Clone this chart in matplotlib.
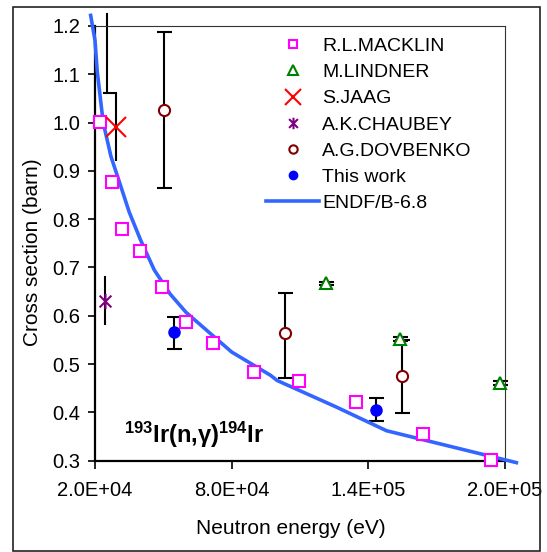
import numpy as np
import matplotlib
matplotlib.use("Agg")
import matplotlib.pyplot as plt
from matplotlib.path import Path
from matplotlib.patches import Rectangle

plt.rcParams['font.family'] = ['Liberation Sans', 'DejaVu Sans']
plt.rcParams['mathtext.fontset'] = 'custom'
plt.rcParams['mathtext.rm'] = 'Liberation Sans'
plt.rcParams['mathtext.bf'] = 'Liberation Sans:bold'
plt.rcParams['mathtext.it'] = 'Liberation Sans:italic'

# ---------------- data ----------------
macklin_e = [2.2e4, 2.76e4, 3.2e4, 3.97e4, 4.93e4, 5.98e4, 7.2e4, 8.97e4, 1.096e5, 1.345e5, 1.642e5, 1.94e5]
macklin_xs = [1.001, 0.877, 0.779, 0.734, 0.659, 0.588, 0.543, 0.484, 0.465, 0.422, 0.356, 0.302]

lindner_e = [1.212e5, 1.54e5, 1.978e5]
lindner_xs = [0.667, 0.552, 0.461]
lindner_err = [0.004, 0.004, 0.004]

jaag_e = [2.93e4]
jaag_xs = [0.990]
jaag_lo = [0.920]
jaag_hi = [1.062]
# companion bracket drawn next to the S.JAAG point
jaag_bracket_x = [2.53e4, 2.53e4, np.nan, 2.40e4, 2.93e4]
jaag_bracket_y = [1.225, 1.062, np.nan, 1.062, 1.062]

chaubey_e = [2.45e4]
chaubey_xs = [0.631]
chaubey_lo = [0.581]
chaubey_hi = [0.682]

dovbenko_e = [5.03e4, 1.033e5, 1.548e5]
dovbenko_xs = [1.027, 0.565, 0.475]
dovbenko_lo = [0.864, 0.471, 0.399]
dovbenko_hi = [1.187, 0.648, 0.550]

this_e = [5.46e4, 1.432e5]
this_xs = [0.566, 0.406]
this_lo = [0.532, 0.383]
this_hi = [0.598, 0.429]

endf_e = [1.81e4, 2.0e4, 2.1e4, 2.36e4, 2.7e4, 3.05e4, 3.5e4, 4.0e4, 4.6e4, 5.3e4, 6.0e4,
          8.0e4, 9.7e4, 1.0e5, 1.26e5, 1.48e5, 2.05e5]
endf_xs = [1.222, 1.17, 1.105, 1.0, 0.93, 0.88, 0.815, 0.757, 0.695, 0.645, 0.607,
           0.525, 0.477, 0.466, 0.411, 0.362, 0.296]

xtick_vals = [2.0e4, 8.0e4, 1.4e5, 2.0e5]
xtick_labels = ["2.0E+04", "8.0E+04", "1.4E+05", "2.0E+05"]
ytick_vals = [0.3, 0.4, 0.5, 0.6, 0.7, 0.8, 0.9, 1.0, 1.1, 1.2]

# ---------------- figure ----------------
W, H = 547, 552
fig = plt.figure(figsize=(W / 100, H / 100), dpi=100)
fig.patch.set_facecolor('white')

# chart-area border
fig.patches.append(Rectangle((13 / W, 1 - 551 / H), (540 - 13) / W, (551 - 7) / H,
                             transform=fig.transFigure, fill=False,
                             edgecolor='#222222', linewidth=1.2))

ax_l, ax_r, ax_t, ax_b = 95, 505, 26, 460.7
ax = fig.add_axes([ax_l / W, 1 - ax_b / H, (ax_r - ax_l) / W, (ax_b - ax_t) / H])
ax.set_xlim(2.0e4, 2.0e5)
ax.set_ylim(0.3, 1.2)

for s in ('left', 'bottom'):
    ax.spines[s].set_linewidth(1.6)
    ax.spines[s].set_color('black')
for s in ('top', 'right'):
    ax.spines[s].set_linewidth(0.8)
    ax.spines[s].set_color('#333333')

ax.set_xticks(xtick_vals)
ax.set_xticklabels(xtick_labels)
ax.set_yticks(ytick_vals)
ax.set_yticklabels([f"{v:.1f}" for v in ytick_vals])
ax.tick_params(axis='both', direction='out', length=5.4, width=1.2, labelsize=14.5, color='black')
ax.tick_params(axis='y', pad=5)
ax.tick_params(axis='x', pad=9.5)
ax.tick_params(top=False, right=False)

ax.set_ylabel("Cross section (barn)", fontsize=15)
ax.yaxis.set_label_coords((32.5 - ax_l) / (ax_r - ax_l), 0.48)
ax.yaxis.label.set_va('center')
ax.set_xlabel("Neutron energy (eV)", fontsize=15)
ax.xaxis.set_label_coords((291 - ax_l) / (ax_r - ax_l), -(529 - ax_b) / (ax_b - ax_t))
ax.xaxis.label.set_va('center')

# asterisk marker: X plus vertical bar
ast = Path([(-1, -1), (1, 1), (-1, 1), (1, -1), (0, -1.3), (0, 1.3)],
           [Path.MOVETO, Path.LINETO, Path.MOVETO, Path.LINETO, Path.MOVETO, Path.LINETO])

ebkw = dict(fmt='none', ecolor='black', elinewidth=1.5, capthick=1.5, clip_on=False, zorder=2)


def asym(vals, lo, hi):
    return [np.subtract(vals, lo), np.subtract(hi, vals)]


# error bars
ax.errorbar(lindner_e, lindner_xs, yerr=lindner_err, capsize=5.4, **ebkw)
ax.errorbar(jaag_e, jaag_xs, yerr=asym(jaag_xs, jaag_lo, jaag_hi), capsize=0, **ebkw)
ax.plot(jaag_bracket_x, jaag_bracket_y, color='black', lw=1.5, clip_on=False, zorder=2)
ax.errorbar(chaubey_e, chaubey_xs, yerr=asym(chaubey_xs, chaubey_lo, chaubey_hi), capsize=0, **ebkw)
ax.errorbar(dovbenko_e, dovbenko_xs, yerr=asym(dovbenko_xs, dovbenko_lo, dovbenko_hi), capsize=5.4, **ebkw)
ax.errorbar(this_e, this_xs, yerr=asym(this_xs, this_lo, this_hi), capsize=5.4, **ebkw)

# ENDF curve
endf, = ax.plot(endf_e, endf_xs, color='#3366FF', lw=2.6, clip_on=False, zorder=3,
                solid_joinstyle='round', label='ENDF/B-6.8')

# data markers
mk = dict(ls='none', clip_on=False, zorder=4)
h_mac, = ax.plot(macklin_e, macklin_xs, marker='s', ms=8, mfc='white', mec='#FF00FF', mew=1.5,
                 label='R.L.MACKLIN', **mk)
h_lin, = ax.plot(lindner_e, lindner_xs, marker='^', ms=9, mfc='white', mec='#008000', mew=1.5,
                 label='M.LINDNER', **mk)
h_jaag, = ax.plot(jaag_e, jaag_xs, marker='x', ms=15, mec='#FF0000', mew=1.5,
                  label='S.JAAG', **mk)
h_cha, = ax.plot(chaubey_e, chaubey_xs, marker=ast, ms=11, mec='#800080', mew=1.5,
                 label='A.K.CHAUBEY', **mk)
h_dov, = ax.plot(dovbenko_e, dovbenko_xs, marker='o', ms=8, mfc='white', mec='#800000', mew=1.5,
                 label='A.G.DOVBENKO', **mk)
h_this, = ax.plot(this_e, this_xs, marker='o', ms=8, mfc='#0000FF', mec='#0000FF', mew=1,
                  label='This work', **mk)

handles = [h_mac, h_lin, h_jaag, h_cha, h_dov, h_this, endf]
leg = ax.legend(handles=handles, loc='upper left', bbox_to_anchor=(266 / W, 1 - 37.5 / H),
                bbox_transform=fig.transFigure, frameon=False, fontsize=14,
                handlelength=2.75, handletextpad=0.15, labelspacing=0.44,
                borderpad=0, borderaxespad=0, markerscale=0.75)

ax.text((124 - ax_l) / (ax_r - ax_l), (ax_b - 443.3) / (ax_b - ax_t),
        r'$\mathbf{^{193}Ir(n{,}γ)^{194}Ir}$', transform=ax.transAxes,
        ha='left', va='baseline', fontsize=17)

fig.savefig('out.png', dpi=100, facecolor='white')
